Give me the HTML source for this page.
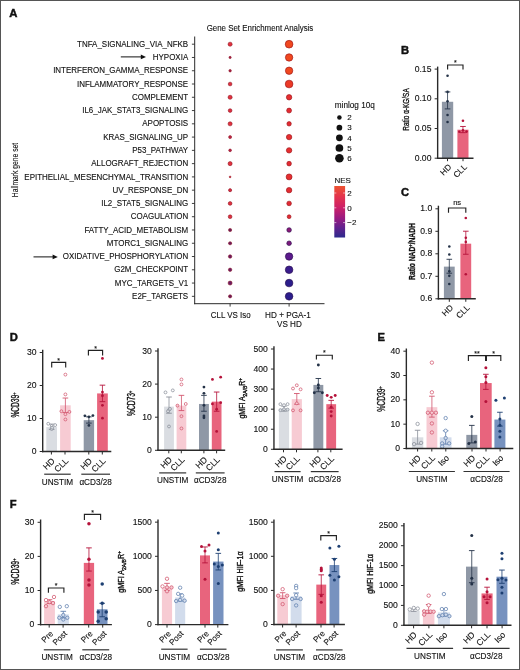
<!DOCTYPE html><html><head><meta charset="utf-8"><style>html,body{margin:0;padding:0;background:#fff;}svg{display:block;will-change:transform;}</style></head><body>
<svg width="520" height="670" viewBox="0 0 520 670" font-family='"Liberation Sans", sans-serif'>
<style>text{stroke:#111;stroke-width:0.12px;}</style>
<rect x="0" y="0" width="520" height="670" fill="#fff"/>
<text x="9.30" y="17.00" font-size="11.3" text-anchor="start" font-weight="bold" fill="#111" style="stroke-width:0.45px">A</text>
<text x="260.00" y="31.10" font-size="8.9" text-anchor="middle" fill="#111" textLength="106.60" lengthAdjust="spacingAndGlyphs" >Gene Set Enrichment Analysis</text>
<line x1="194.70" y1="36.50" x2="194.70" y2="304.20" stroke="#2a2a2a" stroke-width="1"/>
<line x1="194.20" y1="303.70" x2="324.50" y2="303.70" stroke="#2a2a2a" stroke-width="1"/>
<line x1="191.90" y1="44.20" x2="194.70" y2="44.20" stroke="#2a2a2a" stroke-width="0.9"/>
<text x="188.20" y="46.80" font-size="8.8" text-anchor="end" fill="#111" textLength="111.17" lengthAdjust="spacingAndGlyphs" >TNFA_SIGNALING_VIA_NFKB</text>
<line x1="191.90" y1="57.47" x2="194.70" y2="57.47" stroke="#2a2a2a" stroke-width="0.9"/>
<text x="188.20" y="60.07" font-size="8.8" text-anchor="end" fill="#111" textLength="35.43" lengthAdjust="spacingAndGlyphs" >HYPOXIA</text>
<line x1="191.90" y1="70.74" x2="194.70" y2="70.74" stroke="#2a2a2a" stroke-width="0.9"/>
<text x="188.20" y="73.34" font-size="8.8" text-anchor="end" fill="#111" textLength="135.07" lengthAdjust="spacingAndGlyphs" >INTERFERON_GAMMA_RESPONSE</text>
<line x1="191.90" y1="84.01" x2="194.70" y2="84.01" stroke="#2a2a2a" stroke-width="0.9"/>
<text x="188.20" y="86.61" font-size="8.8" text-anchor="end" fill="#111" textLength="111.17" lengthAdjust="spacingAndGlyphs" >INFLAMMATORY_RESPONSE</text>
<line x1="191.90" y1="97.28" x2="194.70" y2="97.28" stroke="#2a2a2a" stroke-width="0.9"/>
<text x="188.20" y="99.88" font-size="8.8" text-anchor="end" fill="#111" textLength="56.24" lengthAdjust="spacingAndGlyphs" >COMPLEMENT</text>
<line x1="191.90" y1="110.55" x2="194.70" y2="110.55" stroke="#2a2a2a" stroke-width="0.9"/>
<text x="188.20" y="113.15" font-size="8.8" text-anchor="end" fill="#111" textLength="106.02" lengthAdjust="spacingAndGlyphs" >IL6_JAK_STAT3_SIGNALING</text>
<line x1="191.90" y1="123.82" x2="194.70" y2="123.82" stroke="#2a2a2a" stroke-width="0.9"/>
<text x="188.20" y="126.42" font-size="8.8" text-anchor="end" fill="#111" textLength="45.92" lengthAdjust="spacingAndGlyphs" >APOPTOSIS</text>
<line x1="191.90" y1="137.09" x2="194.70" y2="137.09" stroke="#2a2a2a" stroke-width="0.9"/>
<text x="188.20" y="139.69" font-size="8.8" text-anchor="end" fill="#111" textLength="85.05" lengthAdjust="spacingAndGlyphs" >KRAS_SIGNALING_UP</text>
<line x1="191.90" y1="150.36" x2="194.70" y2="150.36" stroke="#2a2a2a" stroke-width="0.9"/>
<text x="188.20" y="152.96" font-size="8.8" text-anchor="end" fill="#111" textLength="55.96" lengthAdjust="spacingAndGlyphs" >P53_PATHWAY</text>
<line x1="191.90" y1="163.63" x2="194.70" y2="163.63" stroke="#2a2a2a" stroke-width="0.9"/>
<text x="188.20" y="166.23" font-size="8.8" text-anchor="end" fill="#111" textLength="96.99" lengthAdjust="spacingAndGlyphs" >ALLOGRAFT_REJECTION</text>
<line x1="191.90" y1="176.90" x2="194.70" y2="176.90" stroke="#2a2a2a" stroke-width="0.9"/>
<text x="188.20" y="179.50" font-size="8.8" text-anchor="end" fill="#111" textLength="163.87" lengthAdjust="spacingAndGlyphs" >EPITHELIAL_MESENCHYMAL_TRANSITION</text>
<line x1="191.90" y1="190.17" x2="194.70" y2="190.17" stroke="#2a2a2a" stroke-width="0.9"/>
<text x="188.20" y="192.77" font-size="8.8" text-anchor="end" fill="#111" textLength="75.74" lengthAdjust="spacingAndGlyphs" >UV_RESPONSE_DN</text>
<line x1="191.90" y1="203.44" x2="194.70" y2="203.44" stroke="#2a2a2a" stroke-width="0.9"/>
<text x="188.20" y="206.04" font-size="8.8" text-anchor="end" fill="#111" textLength="86.97" lengthAdjust="spacingAndGlyphs" >IL2_STAT5_SIGNALING</text>
<line x1="191.90" y1="216.71" x2="194.70" y2="216.71" stroke="#2a2a2a" stroke-width="0.9"/>
<text x="188.20" y="219.31" font-size="8.8" text-anchor="end" fill="#111" textLength="57.42" lengthAdjust="spacingAndGlyphs" >COAGULATION</text>
<line x1="191.90" y1="229.98" x2="194.70" y2="229.98" stroke="#2a2a2a" stroke-width="0.9"/>
<text x="188.20" y="232.58" font-size="8.8" text-anchor="end" fill="#111" textLength="103.78" lengthAdjust="spacingAndGlyphs" >FATTY_ACID_METABOLISM</text>
<line x1="191.90" y1="243.25" x2="194.70" y2="243.25" stroke="#2a2a2a" stroke-width="0.9"/>
<text x="188.20" y="245.85" font-size="8.8" text-anchor="end" fill="#111" textLength="81.34" lengthAdjust="spacingAndGlyphs" >MTORC1_SIGNALING</text>
<line x1="191.90" y1="256.52" x2="194.70" y2="256.52" stroke="#2a2a2a" stroke-width="0.9"/>
<text x="188.20" y="259.12" font-size="8.8" text-anchor="end" fill="#111" textLength="125.34" lengthAdjust="spacingAndGlyphs" >OXIDATIVE_PHOSPHORYLATION</text>
<line x1="191.90" y1="269.79" x2="194.70" y2="269.79" stroke="#2a2a2a" stroke-width="0.9"/>
<text x="188.20" y="272.39" font-size="8.8" text-anchor="end" fill="#111" textLength="73.96" lengthAdjust="spacingAndGlyphs" >G2M_CHECKPOINT</text>
<line x1="191.90" y1="283.06" x2="194.70" y2="283.06" stroke="#2a2a2a" stroke-width="0.9"/>
<text x="188.20" y="285.66" font-size="8.8" text-anchor="end" fill="#111" textLength="73.38" lengthAdjust="spacingAndGlyphs" >MYC_TARGETS_V1</text>
<line x1="191.90" y1="296.33" x2="194.70" y2="296.33" stroke="#2a2a2a" stroke-width="0.9"/>
<text x="188.20" y="298.93" font-size="8.8" text-anchor="end" fill="#111" textLength="56.10" lengthAdjust="spacingAndGlyphs" >E2F_TARGETS</text>
<line x1="230.10" y1="303.70" x2="230.10" y2="306.60" stroke="#2a2a2a" stroke-width="0.9"/>
<line x1="289.10" y1="303.70" x2="289.10" y2="306.60" stroke="#2a2a2a" stroke-width="0.9"/>
<text x="230.70" y="317.50" font-size="8.6" text-anchor="middle" fill="#111" textLength="39.80" lengthAdjust="spacingAndGlyphs" >CLL VS Iso</text>
<text x="287.90" y="317.50" font-size="8.6" text-anchor="middle" fill="#111" textLength="45.60" lengthAdjust="spacingAndGlyphs" >HD + PGA-1</text>
<text x="289.40" y="326.60" font-size="8.6" text-anchor="middle" fill="#111" textLength="24.80" lengthAdjust="spacingAndGlyphs" >VS HD</text>
<line x1="120.80" y1="56.90" x2="143.00" y2="56.90" stroke="#111" stroke-width="1"/>
<path d="M146.00 56.90 L140.80 54.60 L140.80 59.20 Z" fill="#111"/>
<line x1="33.50" y1="256.90" x2="54.80" y2="256.90" stroke="#111" stroke-width="1"/>
<path d="M57.80 256.90 L52.60 254.60 L52.60 259.20 Z" fill="#111"/>
<circle cx="230.10" cy="44.20" r="2.05" fill="#e2323e" stroke="#8a1020" stroke-width="0.55"/>
<circle cx="289.10" cy="44.20" r="3.85" fill="#f0481f" stroke="#9a1418" stroke-width="0.65"/>
<circle cx="230.10" cy="57.47" r="1.15" fill="#a52048" stroke="#8a1020" stroke-width="0.55"/>
<circle cx="289.10" cy="57.47" r="3.70" fill="#f0481f" stroke="#9a1418" stroke-width="0.65"/>
<circle cx="230.10" cy="70.74" r="1.25" fill="#a82046" stroke="#8a1020" stroke-width="0.55"/>
<circle cx="289.10" cy="70.74" r="3.70" fill="#f0481f" stroke="#9a1418" stroke-width="0.65"/>
<circle cx="230.10" cy="84.01" r="1.85" fill="#df303e" stroke="#8a1020" stroke-width="0.55"/>
<circle cx="289.10" cy="84.01" r="3.85" fill="#ec3a26" stroke="#9a1418" stroke-width="0.65"/>
<circle cx="230.10" cy="97.28" r="2.05" fill="#e2323e" stroke="#8a1020" stroke-width="0.55"/>
<circle cx="289.10" cy="97.28" r="2.70" fill="#e62e30" stroke="#9a1418" stroke-width="0.65"/>
<circle cx="230.10" cy="110.55" r="1.85" fill="#df2f3f" stroke="#8a1020" stroke-width="0.55"/>
<circle cx="289.10" cy="110.55" r="2.45" fill="#e42a32" stroke="#9a1418" stroke-width="0.65"/>
<circle cx="230.10" cy="123.82" r="2.05" fill="#e2323e" stroke="#8a1020" stroke-width="0.55"/>
<circle cx="289.10" cy="123.82" r="2.20" fill="#e42a32" stroke="#9a1418" stroke-width="0.65"/>
<circle cx="230.10" cy="137.09" r="1.50" fill="#c02444" stroke="#8a1020" stroke-width="0.55"/>
<circle cx="289.10" cy="137.09" r="2.70" fill="#e62e30" stroke="#9a1418" stroke-width="0.65"/>
<circle cx="230.10" cy="150.36" r="1.35" fill="#b82246" stroke="#8a1020" stroke-width="0.55"/>
<circle cx="289.10" cy="150.36" r="2.70" fill="#e62e30" stroke="#9a1418" stroke-width="0.65"/>
<circle cx="230.10" cy="163.63" r="2.05" fill="#e2323e" stroke="#8a1020" stroke-width="0.55"/>
<circle cx="289.10" cy="163.63" r="2.30" fill="#e42a32" stroke="#9a1418" stroke-width="0.65"/>
<circle cx="230.10" cy="176.90" r="0.85" fill="#e0303e" stroke="#8a1020" stroke-width="0.55"/>
<circle cx="289.10" cy="176.90" r="2.95" fill="#e62e30" stroke="#9a1418" stroke-width="0.65"/>
<circle cx="230.10" cy="190.17" r="1.55" fill="#d82c40" stroke="#8a1020" stroke-width="0.55"/>
<circle cx="289.10" cy="190.17" r="2.70" fill="#e42c32" stroke="#9a1418" stroke-width="0.65"/>
<circle cx="230.10" cy="203.44" r="1.85" fill="#e03240" stroke="#8a1020" stroke-width="0.55"/>
<circle cx="289.10" cy="203.44" r="2.30" fill="#e22a34" stroke="#9a1418" stroke-width="0.65"/>
<circle cx="230.10" cy="216.71" r="1.85" fill="#e03240" stroke="#8a1020" stroke-width="0.55"/>
<circle cx="289.10" cy="216.71" r="1.90" fill="#e22a34" stroke="#9a1418" stroke-width="0.65"/>
<circle cx="230.10" cy="229.98" r="1.60" fill="#6a1a56" stroke="#8a1020" stroke-width="0.55"/>
<circle cx="289.10" cy="229.98" r="2.30" fill="#8c1a78" stroke="#2a1050" stroke-width="0.65"/>
<circle cx="230.10" cy="243.25" r="1.60" fill="#6c1a5c" stroke="#8a1020" stroke-width="0.55"/>
<circle cx="289.10" cy="243.25" r="2.30" fill="#7e1a7c" stroke="#2a1050" stroke-width="0.65"/>
<circle cx="230.10" cy="256.52" r="1.70" fill="#6a1a62" stroke="#8a1020" stroke-width="0.55"/>
<circle cx="289.10" cy="256.52" r="3.70" fill="#5c1a8c" stroke="#2a1050" stroke-width="0.65"/>
<circle cx="230.10" cy="269.79" r="1.70" fill="#6a1a62" stroke="#8a1020" stroke-width="0.55"/>
<circle cx="289.10" cy="269.79" r="3.80" fill="#3a1c8c" stroke="#2a1050" stroke-width="0.65"/>
<circle cx="230.10" cy="283.06" r="2.00" fill="#6a1a62" stroke="#8a1020" stroke-width="0.55"/>
<circle cx="289.10" cy="283.06" r="3.80" fill="#2c1e8c" stroke="#2a1050" stroke-width="0.65"/>
<circle cx="230.10" cy="296.33" r="1.60" fill="#6a1a5a" stroke="#8a1020" stroke-width="0.55"/>
<circle cx="289.10" cy="296.33" r="3.80" fill="#2c1e8c" stroke="#2a1050" stroke-width="0.65"/>
<text transform="translate(18.0,170) rotate(-90)" font-size="9.2" text-anchor="middle" fill="#111" textLength="54.3" lengthAdjust="spacingAndGlyphs">Hallmark gene set</text>
<text x="334.80" y="108.20" font-size="8.2" text-anchor="start" font-weight="normal" fill="#111" >minlog 10q</text>
<circle cx="339.40" cy="117.50" r="2.25" fill="#111" stroke="none" stroke-width="0"/>
<text x="347.30" y="120.30" font-size="8" text-anchor="start" font-weight="normal" fill="#111" >2</text>
<circle cx="339.40" cy="127.67" r="2.85" fill="#111" stroke="none" stroke-width="0"/>
<text x="347.30" y="130.47" font-size="8" text-anchor="start" font-weight="normal" fill="#111" >3</text>
<circle cx="339.40" cy="137.84" r="3.40" fill="#111" stroke="none" stroke-width="0"/>
<text x="347.30" y="140.64" font-size="8" text-anchor="start" font-weight="normal" fill="#111" >4</text>
<circle cx="339.40" cy="148.01" r="3.85" fill="#111" stroke="none" stroke-width="0"/>
<text x="347.30" y="150.81" font-size="8" text-anchor="start" font-weight="normal" fill="#111" >5</text>
<circle cx="339.40" cy="158.18" r="4.30" fill="#111" stroke="none" stroke-width="0"/>
<text x="347.30" y="160.98" font-size="8" text-anchor="start" font-weight="normal" fill="#111" >6</text>
<text x="334.40" y="182.60" font-size="8" text-anchor="start" font-weight="normal" fill="#111" >NES</text>
<defs><linearGradient id="nes" x1="0" y1="0" x2="0" y2="1"><stop offset="0" stop-color="#ec5230"/><stop offset="0.2" stop-color="#e4344c"/><stop offset="0.42" stop-color="#cc2068"/><stop offset="0.62" stop-color="#9a1a80"/><stop offset="0.8" stop-color="#64218e"/><stop offset="1" stop-color="#2c2a8c"/></linearGradient></defs>
<rect x="334.3" y="186" width="10.8" height="51.5" fill="url(#nes)"/>
<line x1="334.30" y1="193.00" x2="336.30" y2="193.00" stroke="#fff" stroke-width="0.6"/>
<line x1="343.10" y1="193.00" x2="345.10" y2="193.00" stroke="#fff" stroke-width="0.6"/>
<line x1="334.30" y1="207.80" x2="336.30" y2="207.80" stroke="#fff" stroke-width="0.6"/>
<line x1="343.10" y1="207.80" x2="345.10" y2="207.80" stroke="#fff" stroke-width="0.6"/>
<line x1="334.30" y1="222.60" x2="336.30" y2="222.60" stroke="#fff" stroke-width="0.6"/>
<line x1="343.10" y1="222.60" x2="345.10" y2="222.60" stroke="#fff" stroke-width="0.6"/>
<text x="347.30" y="195.80" font-size="8" text-anchor="start" font-weight="normal" fill="#111" >2</text>
<text x="347.30" y="210.60" font-size="8" text-anchor="start" font-weight="normal" fill="#111" >0</text>
<text x="347.30" y="225.40" font-size="8" text-anchor="start" font-weight="normal" fill="#111" >−2</text>
<text x="401.00" y="54.20" font-size="11.2" text-anchor="start" font-weight="bold" fill="#111" style="stroke-width:0.45px">B</text>
<text x="401.00" y="195.60" font-size="11.2" text-anchor="start" font-weight="bold" fill="#111" style="stroke-width:0.45px">C</text>
<text x="9.80" y="341.30" font-size="11.2" text-anchor="start" font-weight="bold" fill="#111" style="stroke-width:0.45px">D</text>
<text x="377.40" y="341.00" font-size="11.2" text-anchor="start" font-weight="bold" fill="#111" style="stroke-width:0.45px">E</text>
<text x="9.80" y="507.50" font-size="11.2" text-anchor="start" font-weight="bold" fill="#111" style="stroke-width:0.45px">F</text>
<rect x="441.90" y="101.77" width="11.30" height="56.43" fill="#8f98a6"/>
<rect x="457.40" y="129.69" width="11.10" height="28.51" fill="#e8647d"/>
<line x1="447.55" y1="91.91" x2="447.55" y2="108.90" stroke="#243247" stroke-width="0.8"/>
<line x1="444.75" y1="91.91" x2="450.35" y2="91.91" stroke="#243247" stroke-width="0.9"/>
<line x1="444.75" y1="108.90" x2="450.35" y2="108.90" stroke="#243247" stroke-width="0.9"/>
<circle cx="447.55" cy="75.81" r="1.30" fill="#243247" stroke="none" stroke-width="0"/>
<circle cx="447.55" cy="91.91" r="1.30" fill="#243247" stroke="none" stroke-width="0"/>
<circle cx="447.55" cy="101.18" r="1.30" fill="#243247" stroke="none" stroke-width="0"/>
<circle cx="447.55" cy="115.02" r="1.30" fill="#243247" stroke="none" stroke-width="0"/>
<circle cx="447.55" cy="121.97" r="1.30" fill="#243247" stroke="none" stroke-width="0"/>
<line x1="462.95" y1="126.48" x2="462.95" y2="132.66" stroke="#b5123a" stroke-width="0.8"/>
<line x1="460.15" y1="126.48" x2="465.75" y2="126.48" stroke="#b5123a" stroke-width="0.9"/>
<line x1="460.15" y1="132.66" x2="465.75" y2="132.66" stroke="#b5123a" stroke-width="0.9"/>
<circle cx="462.95" cy="120.78" r="1.30" fill="#b5123a" stroke="none" stroke-width="0"/>
<circle cx="459.35" cy="131.77" r="1.30" fill="#b5123a" stroke="none" stroke-width="0"/>
<circle cx="466.55" cy="131.59" r="1.30" fill="#b5123a" stroke="none" stroke-width="0"/>
<circle cx="462.95" cy="130.28" r="1.30" fill="#b5123a" stroke="none" stroke-width="0"/>
<line x1="437.65" y1="66.60" x2="437.65" y2="158.90" stroke="#2a2a2a" stroke-width="1.4"/>
<line x1="436.95" y1="158.20" x2="473.50" y2="158.20" stroke="#2a2a2a" stroke-width="1.4"/>
<line x1="434.65" y1="158.20" x2="437.65" y2="158.20" stroke="#2a2a2a" stroke-width="1"/>
<text x="431.45" y="160.70" font-size="8.6" text-anchor="end" font-weight="normal" fill="#111" >0.00</text>
<line x1="434.65" y1="128.50" x2="437.65" y2="128.50" stroke="#2a2a2a" stroke-width="1"/>
<text x="431.45" y="131.00" font-size="8.6" text-anchor="end" font-weight="normal" fill="#111" >0.05</text>
<line x1="434.65" y1="98.80" x2="437.65" y2="98.80" stroke="#2a2a2a" stroke-width="1"/>
<text x="431.45" y="101.30" font-size="8.6" text-anchor="end" font-weight="normal" fill="#111" >0.10</text>
<line x1="434.65" y1="69.10" x2="437.65" y2="69.10" stroke="#2a2a2a" stroke-width="1"/>
<text x="431.45" y="71.60" font-size="8.6" text-anchor="end" font-weight="normal" fill="#111" >0.15</text>
<line x1="447.50" y1="158.20" x2="447.50" y2="161.20" stroke="#2a2a2a" stroke-width="1"/>
<text transform="translate(451.90,167.60) rotate(-45)" font-size="8.3" text-anchor="end" fill="#111">HD</text>
<line x1="463.00" y1="158.20" x2="463.00" y2="161.20" stroke="#2a2a2a" stroke-width="1"/>
<text transform="translate(467.40,167.60) rotate(-45)" font-size="8.3" text-anchor="end" fill="#111">CLL</text>
<path d="M447.60 69.60 L447.60 65.00 L463.00 65.00 L463.00 69.60" fill="none" stroke="#222" stroke-width="1.15"/>
<text x="455.30" y="65.20" font-size="7" text-anchor="middle" font-weight="normal" fill="#111" >*</text>
<text transform="translate(409.00,109.50) rotate(-90)" font-size="9.2" font-weight="normal" style="stroke-width:0.35px" text-anchor="middle" fill="#111" textLength="42.4" lengthAdjust="spacingAndGlyphs">Ratio &#945;-KG/SA</text>
<rect x="443.90" y="266.62" width="10.80" height="32.18" fill="#8f98a6"/>
<rect x="460.40" y="243.68" width="10.80" height="55.12" fill="#e8647d"/>
<line x1="449.30" y1="259.29" x2="449.30" y2="273.19" stroke="#243247" stroke-width="0.8"/>
<line x1="446.50" y1="259.29" x2="452.10" y2="259.29" stroke="#243247" stroke-width="0.9"/>
<line x1="446.50" y1="273.19" x2="452.10" y2="273.19" stroke="#243247" stroke-width="0.9"/>
<circle cx="449.30" cy="246.51" r="1.30" fill="#243247" stroke="none" stroke-width="0"/>
<circle cx="449.30" cy="254.47" r="1.30" fill="#243247" stroke="none" stroke-width="0"/>
<circle cx="449.30" cy="271.19" r="1.30" fill="#243247" stroke="none" stroke-width="0"/>
<circle cx="449.30" cy="275.85" r="1.30" fill="#243247" stroke="none" stroke-width="0"/>
<circle cx="449.30" cy="283.95" r="1.30" fill="#243247" stroke="none" stroke-width="0"/>
<line x1="465.80" y1="231.21" x2="465.80" y2="254.25" stroke="#b5123a" stroke-width="0.8"/>
<line x1="463.00" y1="231.21" x2="468.60" y2="231.21" stroke="#b5123a" stroke-width="0.9"/>
<line x1="463.00" y1="254.25" x2="468.60" y2="254.25" stroke="#b5123a" stroke-width="0.9"/>
<circle cx="465.80" cy="218.03" r="1.30" fill="#b5123a" stroke="none" stroke-width="0"/>
<circle cx="465.80" cy="237.83" r="1.30" fill="#b5123a" stroke="none" stroke-width="0"/>
<circle cx="465.80" cy="241.88" r="1.30" fill="#b5123a" stroke="none" stroke-width="0"/>
<circle cx="465.80" cy="274.28" r="1.30" fill="#b5123a" stroke="none" stroke-width="0"/>
<line x1="438.40" y1="205.70" x2="438.40" y2="299.50" stroke="#2a2a2a" stroke-width="1.4"/>
<line x1="437.70" y1="298.80" x2="475.80" y2="298.80" stroke="#2a2a2a" stroke-width="1.4"/>
<line x1="435.40" y1="298.80" x2="438.40" y2="298.80" stroke="#2a2a2a" stroke-width="1"/>
<text x="432.20" y="301.30" font-size="8.6" text-anchor="end" font-weight="normal" fill="#111" >0.6</text>
<line x1="435.40" y1="276.30" x2="438.40" y2="276.30" stroke="#2a2a2a" stroke-width="1"/>
<text x="432.20" y="278.80" font-size="8.6" text-anchor="end" font-weight="normal" fill="#111" >0.7</text>
<line x1="435.40" y1="253.80" x2="438.40" y2="253.80" stroke="#2a2a2a" stroke-width="1"/>
<text x="432.20" y="256.30" font-size="8.6" text-anchor="end" font-weight="normal" fill="#111" >0.8</text>
<line x1="435.40" y1="231.30" x2="438.40" y2="231.30" stroke="#2a2a2a" stroke-width="1"/>
<text x="432.20" y="233.80" font-size="8.6" text-anchor="end" font-weight="normal" fill="#111" >0.9</text>
<line x1="435.40" y1="208.80" x2="438.40" y2="208.80" stroke="#2a2a2a" stroke-width="1"/>
<text x="432.20" y="211.30" font-size="8.6" text-anchor="end" font-weight="normal" fill="#111" >1.0</text>
<line x1="449.30" y1="298.80" x2="449.30" y2="301.80" stroke="#2a2a2a" stroke-width="1"/>
<text transform="translate(453.70,308.20) rotate(-45)" font-size="8.3" text-anchor="end" fill="#111">HD</text>
<line x1="465.80" y1="298.80" x2="465.80" y2="301.80" stroke="#2a2a2a" stroke-width="1"/>
<text transform="translate(470.20,308.20) rotate(-45)" font-size="8.3" text-anchor="end" fill="#111">CLL</text>
<path d="M448.50 212.70 L448.50 208.00 L465.80 208.00 L465.80 212.70" fill="none" stroke="#222" stroke-width="1.15"/>
<text x="457.15" y="204.90" font-size="7.6" text-anchor="middle" font-weight="normal" fill="#111" >ns</text>
<text transform="translate(415.00,251.50) rotate(-90)" font-size="9.8" font-weight="bold" style="stroke-width:0.35px" text-anchor="middle" fill="#111" textLength="56.8" lengthAdjust="spacingAndGlyphs">Ratio NAD<tspan baseline-shift="3.2" font-size="5.8">+</tspan>/NADH</text>
<rect x="46.30" y="427.08" width="10.70" height="24.42" fill="#dadde2"/>
<rect x="60.10" y="405.30" width="10.60" height="46.20" fill="#f7cbd3"/>
<rect x="83.70" y="420.15" width="10.40" height="31.35" fill="#8f98a6"/>
<rect x="97.10" y="393.42" width="10.70" height="58.08" fill="#e8647d"/>
<line x1="51.65" y1="424.11" x2="51.65" y2="429.39" stroke="#8a8f99" stroke-width="0.8"/>
<line x1="48.85" y1="424.11" x2="54.45" y2="424.11" stroke="#8a8f99" stroke-width="0.9"/>
<line x1="48.85" y1="429.39" x2="54.45" y2="429.39" stroke="#8a8f99" stroke-width="0.9"/>
<circle cx="48.25" cy="423.78" r="1.45" fill="#fff" stroke="#8a8f99" stroke-width="0.75"/>
<circle cx="51.65" cy="426.09" r="1.45" fill="#fff" stroke="#8a8f99" stroke-width="0.75"/>
<circle cx="55.15" cy="425.10" r="1.45" fill="#fff" stroke="#8a8f99" stroke-width="0.75"/>
<circle cx="51.65" cy="429.06" r="1.45" fill="#dadde2" stroke="#8a8f99" stroke-width="0.75"/>
<circle cx="52.15" cy="427.74" r="1.45" fill="#dadde2" stroke="#8a8f99" stroke-width="0.75"/>
<line x1="65.40" y1="398.04" x2="65.40" y2="412.56" stroke="#d2566e" stroke-width="0.8"/>
<line x1="62.60" y1="398.04" x2="68.20" y2="398.04" stroke="#d2566e" stroke-width="0.9"/>
<line x1="62.60" y1="412.56" x2="68.20" y2="412.56" stroke="#d2566e" stroke-width="0.9"/>
<circle cx="65.40" cy="374.61" r="1.45" fill="#fff" stroke="#d2566e" stroke-width="0.75"/>
<circle cx="65.40" cy="394.41" r="1.45" fill="#fff" stroke="#d2566e" stroke-width="0.75"/>
<circle cx="61.40" cy="411.24" r="1.45" fill="#f7cbd3" stroke="#d2566e" stroke-width="0.75"/>
<circle cx="69.40" cy="411.90" r="1.45" fill="#f7cbd3" stroke="#d2566e" stroke-width="0.75"/>
<circle cx="65.40" cy="414.21" r="1.45" fill="#f7cbd3" stroke="#d2566e" stroke-width="0.75"/>
<circle cx="65.40" cy="419.49" r="1.45" fill="#f7cbd3" stroke="#d2566e" stroke-width="0.75"/>
<line x1="88.90" y1="416.85" x2="88.90" y2="423.12" stroke="#243247" stroke-width="0.8"/>
<line x1="86.10" y1="416.85" x2="91.70" y2="416.85" stroke="#243247" stroke-width="0.9"/>
<line x1="86.10" y1="423.12" x2="91.70" y2="423.12" stroke="#243247" stroke-width="0.9"/>
<circle cx="84.90" cy="415.86" r="1.40" fill="#243247" stroke="none" stroke-width="0"/>
<circle cx="88.90" cy="416.85" r="1.40" fill="#243247" stroke="none" stroke-width="0"/>
<circle cx="92.90" cy="415.53" r="1.40" fill="#243247" stroke="none" stroke-width="0"/>
<circle cx="88.90" cy="425.43" r="1.40" fill="#243247" stroke="none" stroke-width="0"/>
<line x1="102.45" y1="385.17" x2="102.45" y2="401.67" stroke="#b5123a" stroke-width="0.8"/>
<line x1="99.65" y1="385.17" x2="105.25" y2="385.17" stroke="#b5123a" stroke-width="0.9"/>
<line x1="99.65" y1="401.67" x2="105.25" y2="401.67" stroke="#b5123a" stroke-width="0.9"/>
<circle cx="102.45" cy="358.44" r="1.40" fill="#b5123a" stroke="none" stroke-width="0"/>
<circle cx="102.45" cy="392.10" r="1.40" fill="#b5123a" stroke="none" stroke-width="0"/>
<circle cx="102.45" cy="395.73" r="1.40" fill="#b5123a" stroke="none" stroke-width="0"/>
<circle cx="102.45" cy="405.30" r="1.40" fill="#b5123a" stroke="none" stroke-width="0"/>
<circle cx="102.45" cy="418.17" r="1.40" fill="#b5123a" stroke="none" stroke-width="0"/>
<line x1="42.70" y1="349.80" x2="42.70" y2="452.20" stroke="#2a2a2a" stroke-width="1.4"/>
<line x1="42.00" y1="451.50" x2="111.30" y2="451.50" stroke="#2a2a2a" stroke-width="1.4"/>
<line x1="39.70" y1="451.50" x2="42.70" y2="451.50" stroke="#2a2a2a" stroke-width="1"/>
<text x="36.50" y="454.00" font-size="8.6" text-anchor="end" font-weight="normal" fill="#111" >0</text>
<line x1="39.70" y1="418.50" x2="42.70" y2="418.50" stroke="#2a2a2a" stroke-width="1"/>
<text x="36.50" y="421.00" font-size="8.6" text-anchor="end" font-weight="normal" fill="#111" >10</text>
<line x1="39.70" y1="385.50" x2="42.70" y2="385.50" stroke="#2a2a2a" stroke-width="1"/>
<text x="36.50" y="388.00" font-size="8.6" text-anchor="end" font-weight="normal" fill="#111" >20</text>
<line x1="39.70" y1="352.50" x2="42.70" y2="352.50" stroke="#2a2a2a" stroke-width="1"/>
<text x="36.50" y="355.00" font-size="8.6" text-anchor="end" font-weight="normal" fill="#111" >30</text>
<line x1="51.40" y1="451.50" x2="51.40" y2="454.50" stroke="#2a2a2a" stroke-width="1"/>
<text transform="translate(55.30,461.50) rotate(-45)" font-size="8.6" text-anchor="end" fill="#111">HD</text>
<line x1="65.00" y1="451.50" x2="65.00" y2="454.50" stroke="#2a2a2a" stroke-width="1"/>
<text transform="translate(68.90,461.50) rotate(-45)" font-size="8.6" text-anchor="end" fill="#111">CLL</text>
<line x1="88.80" y1="451.50" x2="88.80" y2="454.50" stroke="#2a2a2a" stroke-width="1"/>
<text transform="translate(92.70,461.50) rotate(-45)" font-size="8.6" text-anchor="end" fill="#111">HD</text>
<line x1="102.30" y1="451.50" x2="102.30" y2="454.50" stroke="#2a2a2a" stroke-width="1"/>
<text transform="translate(106.20,461.50) rotate(-45)" font-size="8.6" text-anchor="end" fill="#111">CLL</text>
<line x1="44.20" y1="474.20" x2="70.70" y2="474.20" stroke="#333" stroke-width="1.2"/>
<text x="57.45" y="484.60" font-size="8.2" text-anchor="middle" font-weight="normal" fill="#111" >UNSTIM</text>
<line x1="81.30" y1="474.20" x2="110.00" y2="474.20" stroke="#333" stroke-width="1.2"/>
<text x="95.65" y="484.60" font-size="8.2" text-anchor="middle" font-weight="normal" fill="#111" >&#945;CD3/28</text>
<path d="M51.70 367.50 L51.70 362.30 L65.70 362.30 L65.70 367.50" fill="none" stroke="#222" stroke-width="1.15"/>
<text x="58.70" y="363.00" font-size="7" text-anchor="middle" font-weight="normal" fill="#111" >*</text>
<path d="M88.40 355.40 L88.40 350.30 L102.60 350.30 L102.60 355.40" fill="none" stroke="#222" stroke-width="1.15"/>
<text x="95.50" y="351.00" font-size="7" text-anchor="middle" font-weight="normal" fill="#111" >*</text>
<text transform="translate(19.40,405.10) rotate(-90)" font-size="10" font-weight="normal" style="stroke-width:0.35px" text-anchor="middle" fill="#111" textLength="25.0" lengthAdjust="spacingAndGlyphs">%CD39<tspan baseline-shift="3.2" font-size="5.8">+</tspan></text>
<rect x="164.10" y="406.61" width="9.80" height="43.69" fill="#dadde2"/>
<rect x="176.60" y="405.62" width="9.70" height="44.69" fill="#f7cbd3"/>
<rect x="199.00" y="403.96" width="9.90" height="46.34" fill="#8f98a6"/>
<rect x="211.80" y="401.64" width="9.70" height="48.66" fill="#e8647d"/>
<line x1="169.00" y1="397.01" x2="169.00" y2="413.23" stroke="#8a8f99" stroke-width="0.8"/>
<line x1="166.20" y1="397.01" x2="171.80" y2="397.01" stroke="#8a8f99" stroke-width="0.9"/>
<line x1="166.20" y1="413.23" x2="171.80" y2="413.23" stroke="#8a8f99" stroke-width="0.9"/>
<circle cx="165.50" cy="392.38" r="1.45" fill="#fff" stroke="#8a8f99" stroke-width="0.75"/>
<circle cx="172.80" cy="390.39" r="1.45" fill="#fff" stroke="#8a8f99" stroke-width="0.75"/>
<circle cx="169.00" cy="426.47" r="1.45" fill="#dadde2" stroke="#8a8f99" stroke-width="0.75"/>
<circle cx="169.00" cy="409.92" r="1.45" fill="#dadde2" stroke="#8a8f99" stroke-width="0.75"/>
<circle cx="168.00" cy="411.24" r="1.45" fill="#dadde2" stroke="#8a8f99" stroke-width="0.75"/>
<circle cx="170.00" cy="408.93" r="1.45" fill="#dadde2" stroke="#8a8f99" stroke-width="0.75"/>
<line x1="181.45" y1="395.35" x2="181.45" y2="410.58" stroke="#d2566e" stroke-width="0.8"/>
<line x1="178.65" y1="395.35" x2="184.25" y2="395.35" stroke="#d2566e" stroke-width="0.9"/>
<line x1="178.65" y1="410.58" x2="184.25" y2="410.58" stroke="#d2566e" stroke-width="0.9"/>
<circle cx="181.45" cy="379.47" r="1.45" fill="#fff" stroke="#d2566e" stroke-width="0.75"/>
<circle cx="181.45" cy="384.43" r="1.45" fill="#fff" stroke="#d2566e" stroke-width="0.75"/>
<circle cx="177.45" cy="405.62" r="1.45" fill="#f7cbd3" stroke="#d2566e" stroke-width="0.75"/>
<circle cx="185.75" cy="403.96" r="1.45" fill="#fff" stroke="#d2566e" stroke-width="0.75"/>
<circle cx="181.45" cy="416.21" r="1.45" fill="#f7cbd3" stroke="#d2566e" stroke-width="0.75"/>
<circle cx="181.45" cy="428.45" r="1.45" fill="#f7cbd3" stroke="#d2566e" stroke-width="0.75"/>
<line x1="203.95" y1="395.35" x2="203.95" y2="411.24" stroke="#243247" stroke-width="0.8"/>
<line x1="201.15" y1="395.35" x2="206.75" y2="395.35" stroke="#243247" stroke-width="0.9"/>
<line x1="201.15" y1="411.24" x2="206.75" y2="411.24" stroke="#243247" stroke-width="0.9"/>
<circle cx="203.95" cy="387.08" r="1.40" fill="#243247" stroke="none" stroke-width="0"/>
<circle cx="203.95" cy="393.37" r="1.40" fill="#243247" stroke="none" stroke-width="0"/>
<circle cx="203.95" cy="405.28" r="1.40" fill="#243247" stroke="none" stroke-width="0"/>
<circle cx="203.95" cy="415.88" r="1.40" fill="#243247" stroke="none" stroke-width="0"/>
<circle cx="203.95" cy="417.86" r="1.40" fill="#243247" stroke="none" stroke-width="0"/>
<line x1="216.65" y1="392.04" x2="216.65" y2="411.24" stroke="#b5123a" stroke-width="0.8"/>
<line x1="213.85" y1="392.04" x2="219.45" y2="392.04" stroke="#b5123a" stroke-width="0.9"/>
<line x1="213.85" y1="411.24" x2="219.45" y2="411.24" stroke="#b5123a" stroke-width="0.9"/>
<circle cx="212.45" cy="379.47" r="1.40" fill="#b5123a" stroke="none" stroke-width="0"/>
<circle cx="220.65" cy="377.15" r="1.40" fill="#b5123a" stroke="none" stroke-width="0"/>
<circle cx="212.45" cy="403.96" r="1.40" fill="#b5123a" stroke="none" stroke-width="0"/>
<circle cx="220.65" cy="402.64" r="1.40" fill="#b5123a" stroke="none" stroke-width="0"/>
<circle cx="216.65" cy="409.26" r="1.40" fill="#b5123a" stroke="none" stroke-width="0"/>
<circle cx="216.65" cy="431.43" r="1.40" fill="#b5123a" stroke="none" stroke-width="0"/>
<line x1="158.00" y1="348.30" x2="158.00" y2="451.00" stroke="#2a2a2a" stroke-width="1.4"/>
<line x1="157.30" y1="450.30" x2="225.20" y2="450.30" stroke="#2a2a2a" stroke-width="1.4"/>
<line x1="155.00" y1="450.30" x2="158.00" y2="450.30" stroke="#2a2a2a" stroke-width="1"/>
<text x="151.80" y="452.80" font-size="8.6" text-anchor="end" font-weight="normal" fill="#111" >0</text>
<line x1="155.00" y1="417.20" x2="158.00" y2="417.20" stroke="#2a2a2a" stroke-width="1"/>
<text x="151.80" y="419.70" font-size="8.6" text-anchor="end" font-weight="normal" fill="#111" >10</text>
<line x1="155.00" y1="384.10" x2="158.00" y2="384.10" stroke="#2a2a2a" stroke-width="1"/>
<text x="151.80" y="386.60" font-size="8.6" text-anchor="end" font-weight="normal" fill="#111" >20</text>
<line x1="155.00" y1="351.00" x2="158.00" y2="351.00" stroke="#2a2a2a" stroke-width="1"/>
<text x="151.80" y="353.50" font-size="8.6" text-anchor="end" font-weight="normal" fill="#111" >30</text>
<line x1="168.80" y1="450.30" x2="168.80" y2="453.30" stroke="#2a2a2a" stroke-width="1"/>
<text transform="translate(172.70,460.30) rotate(-45)" font-size="8.6" text-anchor="end" fill="#111">HD</text>
<line x1="181.30" y1="450.30" x2="181.30" y2="453.30" stroke="#2a2a2a" stroke-width="1"/>
<text transform="translate(185.20,460.30) rotate(-45)" font-size="8.6" text-anchor="end" fill="#111">CLL</text>
<line x1="203.90" y1="450.30" x2="203.90" y2="453.30" stroke="#2a2a2a" stroke-width="1"/>
<text transform="translate(207.80,460.30) rotate(-45)" font-size="8.6" text-anchor="end" fill="#111">HD</text>
<line x1="216.60" y1="450.30" x2="216.60" y2="453.30" stroke="#2a2a2a" stroke-width="1"/>
<text transform="translate(220.50,460.30) rotate(-45)" font-size="8.6" text-anchor="end" fill="#111">CLL</text>
<line x1="159.20" y1="472.90" x2="186.20" y2="472.90" stroke="#333" stroke-width="1.2"/>
<text x="172.70" y="483.30" font-size="8.2" text-anchor="middle" font-weight="normal" fill="#111" >UNSTIM</text>
<line x1="195.80" y1="472.90" x2="224.60" y2="472.90" stroke="#333" stroke-width="1.2"/>
<text x="210.20" y="483.30" font-size="8.2" text-anchor="middle" font-weight="normal" fill="#111" >&#945;CD3/28</text>
<text transform="translate(135.00,403.40) rotate(-90)" font-size="10" font-weight="normal" style="stroke-width:0.35px" text-anchor="middle" fill="#111" textLength="25.3" lengthAdjust="spacingAndGlyphs">%CD73<tspan baseline-shift="3.2" font-size="5.8">+</tspan></text>
<rect x="278.90" y="408.58" width="10.20" height="40.72" fill="#dadde2"/>
<rect x="291.70" y="399.15" width="10.20" height="50.15" fill="#f7cbd3"/>
<rect x="313.40" y="384.91" width="9.90" height="64.39" fill="#8f98a6"/>
<rect x="326.30" y="404.17" width="9.80" height="45.13" fill="#e8647d"/>
<line x1="284.00" y1="406.17" x2="284.00" y2="411.19" stroke="#8a8f99" stroke-width="0.8"/>
<line x1="281.20" y1="406.17" x2="286.80" y2="406.17" stroke="#8a8f99" stroke-width="0.9"/>
<line x1="281.20" y1="411.19" x2="286.80" y2="411.19" stroke="#8a8f99" stroke-width="0.9"/>
<circle cx="280.40" cy="404.17" r="1.45" fill="#fff" stroke="#8a8f99" stroke-width="0.75"/>
<circle cx="284.00" cy="405.17" r="1.45" fill="#fff" stroke="#8a8f99" stroke-width="0.75"/>
<circle cx="287.60" cy="404.17" r="1.45" fill="#fff" stroke="#8a8f99" stroke-width="0.75"/>
<circle cx="280.40" cy="410.18" r="1.45" fill="#dadde2" stroke="#8a8f99" stroke-width="0.75"/>
<circle cx="284.00" cy="409.18" r="1.45" fill="#dadde2" stroke="#8a8f99" stroke-width="0.75"/>
<circle cx="287.60" cy="409.58" r="1.45" fill="#dadde2" stroke="#8a8f99" stroke-width="0.75"/>
<line x1="296.80" y1="393.53" x2="296.80" y2="404.17" stroke="#d2566e" stroke-width="0.8"/>
<line x1="294.00" y1="393.53" x2="299.60" y2="393.53" stroke="#d2566e" stroke-width="0.9"/>
<line x1="294.00" y1="404.17" x2="299.60" y2="404.17" stroke="#d2566e" stroke-width="0.9"/>
<circle cx="293.00" cy="388.52" r="1.45" fill="#fff" stroke="#d2566e" stroke-width="0.75"/>
<circle cx="296.80" cy="385.31" r="1.45" fill="#fff" stroke="#d2566e" stroke-width="0.75"/>
<circle cx="300.60" cy="389.32" r="1.45" fill="#fff" stroke="#d2566e" stroke-width="0.75"/>
<circle cx="296.80" cy="403.36" r="1.45" fill="#f7cbd3" stroke="#d2566e" stroke-width="0.75"/>
<circle cx="293.00" cy="410.38" r="1.45" fill="#f7cbd3" stroke="#d2566e" stroke-width="0.75"/>
<circle cx="300.60" cy="410.38" r="1.45" fill="#f7cbd3" stroke="#d2566e" stroke-width="0.75"/>
<line x1="318.35" y1="378.49" x2="318.35" y2="391.73" stroke="#243247" stroke-width="0.8"/>
<line x1="315.55" y1="378.49" x2="321.15" y2="378.49" stroke="#243247" stroke-width="0.9"/>
<line x1="315.55" y1="391.73" x2="321.15" y2="391.73" stroke="#243247" stroke-width="0.9"/>
<circle cx="318.35" cy="365.05" r="1.45" fill="#243247" stroke="none" stroke-width="0"/>
<circle cx="318.35" cy="387.92" r="1.45" fill="#243247" stroke="none" stroke-width="0"/>
<circle cx="314.35" cy="392.73" r="1.45" fill="#243247" stroke="none" stroke-width="0"/>
<circle cx="322.35" cy="392.73" r="1.45" fill="#243247" stroke="none" stroke-width="0"/>
<circle cx="318.35" cy="384.91" r="1.45" fill="#243247" stroke="none" stroke-width="0"/>
<line x1="331.20" y1="400.35" x2="331.20" y2="408.18" stroke="#b5123a" stroke-width="0.8"/>
<line x1="328.40" y1="400.35" x2="334.00" y2="400.35" stroke="#b5123a" stroke-width="0.9"/>
<line x1="328.40" y1="408.18" x2="334.00" y2="408.18" stroke="#b5123a" stroke-width="0.9"/>
<circle cx="327.20" cy="395.54" r="1.45" fill="#b5123a" stroke="none" stroke-width="0"/>
<circle cx="331.20" cy="397.34" r="1.45" fill="#b5123a" stroke="none" stroke-width="0"/>
<circle cx="335.20" cy="395.54" r="1.45" fill="#b5123a" stroke="none" stroke-width="0"/>
<circle cx="331.20" cy="407.17" r="1.45" fill="#b5123a" stroke="none" stroke-width="0"/>
<circle cx="331.20" cy="411.59" r="1.45" fill="#b5123a" stroke="none" stroke-width="0"/>
<circle cx="331.20" cy="416.00" r="1.45" fill="#b5123a" stroke="none" stroke-width="0"/>
<line x1="273.95" y1="346.30" x2="273.95" y2="450.00" stroke="#2a2a2a" stroke-width="1.4"/>
<line x1="273.25" y1="449.30" x2="342.60" y2="449.30" stroke="#2a2a2a" stroke-width="1.4"/>
<line x1="270.95" y1="449.30" x2="273.95" y2="449.30" stroke="#2a2a2a" stroke-width="1"/>
<text x="267.75" y="451.80" font-size="8.6" text-anchor="end" font-weight="normal" fill="#111" >0</text>
<line x1="270.95" y1="429.24" x2="273.95" y2="429.24" stroke="#2a2a2a" stroke-width="1"/>
<text x="267.75" y="431.74" font-size="8.6" text-anchor="end" font-weight="normal" fill="#111" >100</text>
<line x1="270.95" y1="409.18" x2="273.95" y2="409.18" stroke="#2a2a2a" stroke-width="1"/>
<text x="267.75" y="411.68" font-size="8.6" text-anchor="end" font-weight="normal" fill="#111" >200</text>
<line x1="270.95" y1="389.12" x2="273.95" y2="389.12" stroke="#2a2a2a" stroke-width="1"/>
<text x="267.75" y="391.62" font-size="8.6" text-anchor="end" font-weight="normal" fill="#111" >300</text>
<line x1="270.95" y1="369.06" x2="273.95" y2="369.06" stroke="#2a2a2a" stroke-width="1"/>
<text x="267.75" y="371.56" font-size="8.6" text-anchor="end" font-weight="normal" fill="#111" >400</text>
<line x1="270.95" y1="349.00" x2="273.95" y2="349.00" stroke="#2a2a2a" stroke-width="1"/>
<text x="267.75" y="351.50" font-size="8.6" text-anchor="end" font-weight="normal" fill="#111" >500</text>
<line x1="283.50" y1="449.30" x2="283.50" y2="452.30" stroke="#2a2a2a" stroke-width="1"/>
<text transform="translate(287.40,459.30) rotate(-45)" font-size="8.6" text-anchor="end" fill="#111">HD</text>
<line x1="296.50" y1="449.30" x2="296.50" y2="452.30" stroke="#2a2a2a" stroke-width="1"/>
<text transform="translate(300.40,459.30) rotate(-45)" font-size="8.6" text-anchor="end" fill="#111">CLL</text>
<line x1="317.90" y1="449.30" x2="317.90" y2="452.30" stroke="#2a2a2a" stroke-width="1"/>
<text transform="translate(321.80,459.30) rotate(-45)" font-size="8.6" text-anchor="end" fill="#111">HD</text>
<line x1="330.80" y1="449.30" x2="330.80" y2="452.30" stroke="#2a2a2a" stroke-width="1"/>
<text transform="translate(334.70,459.30) rotate(-45)" font-size="8.6" text-anchor="end" fill="#111">CLL</text>
<line x1="274.50" y1="471.60" x2="300.60" y2="471.60" stroke="#333" stroke-width="1.2"/>
<text x="287.55" y="482.00" font-size="8.2" text-anchor="middle" font-weight="normal" fill="#111" >UNSTIM</text>
<line x1="310.80" y1="471.60" x2="338.60" y2="471.60" stroke="#333" stroke-width="1.2"/>
<text x="324.70" y="482.00" font-size="8.2" text-anchor="middle" font-weight="normal" fill="#111" >&#945;CD3/28</text>
<path d="M316.40 359.50 L316.40 355.20 L332.30 355.20 L332.30 359.50" fill="none" stroke="#222" stroke-width="1.15"/>
<text x="324.35" y="355.30" font-size="7" text-anchor="middle" font-weight="normal" fill="#111" >*</text>
<text transform="translate(244.80,398.20) rotate(-90)" font-size="8.3" font-weight="normal" style="stroke-width:0.35px" text-anchor="middle" fill="#111" textLength="40.7" lengthAdjust="spacingAndGlyphs">gMFI A<tspan baseline-shift="-1.8" font-size="5.8">2A/B</tspan>R<tspan baseline-shift="3.2" font-size="5.8">+</tspan></text>
<rect x="411.90" y="437.31" width="11.40" height="11.19" fill="#dadde2"/>
<rect x="426.50" y="407.14" width="10.80" height="41.36" fill="#f7cbd3"/>
<rect x="439.80" y="437.31" width="11.70" height="11.19" fill="#d2dcec"/>
<rect x="466.30" y="434.88" width="11.00" height="13.62" fill="#8f98a6"/>
<rect x="480.00" y="383.05" width="11.70" height="65.45" fill="#e8647d"/>
<rect x="494.40" y="419.55" width="11.00" height="28.95" fill="#7792bf"/>
<line x1="417.60" y1="430.25" x2="417.60" y2="444.12" stroke="#8a8f99" stroke-width="0.8"/>
<line x1="414.80" y1="430.25" x2="420.40" y2="430.25" stroke="#8a8f99" stroke-width="0.9"/>
<line x1="414.80" y1="444.12" x2="420.40" y2="444.12" stroke="#8a8f99" stroke-width="0.9"/>
<circle cx="417.60" cy="423.93" r="1.70" fill="#fff" stroke="#8a8f99" stroke-width="0.75"/>
<circle cx="414.10" cy="444.12" r="1.70" fill="#dadde2" stroke="#8a8f99" stroke-width="0.75"/>
<circle cx="421.10" cy="442.90" r="1.70" fill="#dadde2" stroke="#8a8f99" stroke-width="0.75"/>
<line x1="431.90" y1="396.19" x2="431.90" y2="417.11" stroke="#d2566e" stroke-width="0.8"/>
<line x1="429.10" y1="396.19" x2="434.70" y2="396.19" stroke="#d2566e" stroke-width="0.9"/>
<line x1="429.10" y1="417.11" x2="434.70" y2="417.11" stroke="#d2566e" stroke-width="0.9"/>
<circle cx="431.90" cy="362.62" r="1.70" fill="#fff" stroke="#d2566e" stroke-width="0.75"/>
<circle cx="431.90" cy="392.30" r="1.70" fill="#fff" stroke="#d2566e" stroke-width="0.75"/>
<circle cx="427.90" cy="412.73" r="1.70" fill="#f7cbd3" stroke="#d2566e" stroke-width="0.75"/>
<circle cx="435.90" cy="412.73" r="1.70" fill="#f7cbd3" stroke="#d2566e" stroke-width="0.75"/>
<circle cx="431.90" cy="412.73" r="1.70" fill="#f7cbd3" stroke="#d2566e" stroke-width="0.75"/>
<circle cx="431.90" cy="423.44" r="1.70" fill="#f7cbd3" stroke="#d2566e" stroke-width="0.75"/>
<circle cx="431.90" cy="432.44" r="1.70" fill="#f7cbd3" stroke="#d2566e" stroke-width="0.75"/>
<line x1="445.65" y1="430.74" x2="445.65" y2="444.12" stroke="#5f7fae" stroke-width="0.8"/>
<line x1="442.85" y1="430.74" x2="448.45" y2="430.74" stroke="#5f7fae" stroke-width="0.9"/>
<line x1="442.85" y1="444.12" x2="448.45" y2="444.12" stroke="#5f7fae" stroke-width="0.9"/>
<circle cx="445.65" cy="418.09" r="1.70" fill="#fff" stroke="#5f7fae" stroke-width="0.75"/>
<circle cx="445.65" cy="430.74" r="1.70" fill="#fff" stroke="#5f7fae" stroke-width="0.75"/>
<circle cx="445.65" cy="438.04" r="1.70" fill="#d2dcec" stroke="#5f7fae" stroke-width="0.75"/>
<circle cx="442.15" cy="443.39" r="1.70" fill="#d2dcec" stroke="#5f7fae" stroke-width="0.75"/>
<circle cx="449.15" cy="443.39" r="1.70" fill="#d2dcec" stroke="#5f7fae" stroke-width="0.75"/>
<circle cx="442.15" cy="446.55" r="1.70" fill="#d2dcec" stroke="#5f7fae" stroke-width="0.75"/>
<line x1="471.80" y1="425.39" x2="471.80" y2="442.90" stroke="#243247" stroke-width="0.8"/>
<line x1="469.00" y1="425.39" x2="474.60" y2="425.39" stroke="#243247" stroke-width="0.9"/>
<line x1="469.00" y1="442.90" x2="474.60" y2="442.90" stroke="#243247" stroke-width="0.9"/>
<circle cx="471.80" cy="416.38" r="1.50" fill="#243247" stroke="none" stroke-width="0"/>
<circle cx="468.80" cy="443.39" r="1.50" fill="#243247" stroke="none" stroke-width="0"/>
<circle cx="475.30" cy="441.93" r="1.50" fill="#243247" stroke="none" stroke-width="0"/>
<line x1="485.85" y1="374.29" x2="485.85" y2="389.38" stroke="#b5123a" stroke-width="0.8"/>
<line x1="483.05" y1="374.29" x2="488.65" y2="374.29" stroke="#b5123a" stroke-width="0.9"/>
<line x1="483.05" y1="389.38" x2="488.65" y2="389.38" stroke="#b5123a" stroke-width="0.9"/>
<circle cx="485.85" cy="367.72" r="1.50" fill="#b5123a" stroke="none" stroke-width="0"/>
<circle cx="485.85" cy="376.73" r="1.50" fill="#b5123a" stroke="none" stroke-width="0"/>
<circle cx="485.85" cy="382.57" r="1.50" fill="#b5123a" stroke="none" stroke-width="0"/>
<circle cx="485.85" cy="401.54" r="1.50" fill="#b5123a" stroke="none" stroke-width="0"/>
<line x1="499.90" y1="412.25" x2="499.90" y2="426.12" stroke="#1d3f72" stroke-width="0.8"/>
<line x1="497.10" y1="412.25" x2="502.70" y2="412.25" stroke="#1d3f72" stroke-width="0.9"/>
<line x1="497.10" y1="426.12" x2="502.70" y2="426.12" stroke="#1d3f72" stroke-width="0.9"/>
<circle cx="495.90" cy="400.33" r="1.50" fill="#1d3f72" stroke="none" stroke-width="0"/>
<circle cx="504.40" cy="397.89" r="1.50" fill="#1d3f72" stroke="none" stroke-width="0"/>
<circle cx="499.90" cy="419.06" r="1.50" fill="#1d3f72" stroke="none" stroke-width="0"/>
<circle cx="499.90" cy="425.14" r="1.50" fill="#1d3f72" stroke="none" stroke-width="0"/>
<circle cx="499.90" cy="431.23" r="1.50" fill="#1d3f72" stroke="none" stroke-width="0"/>
<circle cx="499.90" cy="437.06" r="1.50" fill="#1d3f72" stroke="none" stroke-width="0"/>
<line x1="406.35" y1="348.50" x2="406.35" y2="449.20" stroke="#2a2a2a" stroke-width="1.4"/>
<line x1="405.65" y1="448.50" x2="513.30" y2="448.50" stroke="#2a2a2a" stroke-width="1.4"/>
<line x1="403.35" y1="448.50" x2="406.35" y2="448.50" stroke="#2a2a2a" stroke-width="1"/>
<text x="400.15" y="451.00" font-size="8.6" text-anchor="end" font-weight="normal" fill="#111" >0</text>
<line x1="403.35" y1="424.17" x2="406.35" y2="424.17" stroke="#2a2a2a" stroke-width="1"/>
<text x="400.15" y="426.67" font-size="8.6" text-anchor="end" font-weight="normal" fill="#111" >10</text>
<line x1="403.35" y1="399.84" x2="406.35" y2="399.84" stroke="#2a2a2a" stroke-width="1"/>
<text x="400.15" y="402.34" font-size="8.6" text-anchor="end" font-weight="normal" fill="#111" >20</text>
<line x1="403.35" y1="375.51" x2="406.35" y2="375.51" stroke="#2a2a2a" stroke-width="1"/>
<text x="400.15" y="378.01" font-size="8.6" text-anchor="end" font-weight="normal" fill="#111" >30</text>
<line x1="403.35" y1="351.18" x2="406.35" y2="351.18" stroke="#2a2a2a" stroke-width="1"/>
<text x="400.15" y="353.68" font-size="8.6" text-anchor="end" font-weight="normal" fill="#111" >40</text>
<line x1="417.60" y1="448.50" x2="417.60" y2="451.50" stroke="#2a2a2a" stroke-width="1"/>
<text transform="translate(421.50,458.50) rotate(-45)" font-size="8.6" text-anchor="end" fill="#111">HD</text>
<line x1="431.80" y1="448.50" x2="431.80" y2="451.50" stroke="#2a2a2a" stroke-width="1"/>
<text transform="translate(435.70,458.50) rotate(-45)" font-size="8.6" text-anchor="end" fill="#111">CLL</text>
<line x1="445.80" y1="448.50" x2="445.80" y2="451.50" stroke="#2a2a2a" stroke-width="1"/>
<text transform="translate(449.70,458.50) rotate(-45)" font-size="8.6" text-anchor="end" fill="#111">Iso</text>
<line x1="472.00" y1="448.50" x2="472.00" y2="451.50" stroke="#2a2a2a" stroke-width="1"/>
<text transform="translate(475.90,458.50) rotate(-45)" font-size="8.6" text-anchor="end" fill="#111">HD</text>
<line x1="486.00" y1="448.50" x2="486.00" y2="451.50" stroke="#2a2a2a" stroke-width="1"/>
<text transform="translate(489.90,458.50) rotate(-45)" font-size="8.6" text-anchor="end" fill="#111">CLL</text>
<line x1="500.10" y1="448.50" x2="500.10" y2="451.50" stroke="#2a2a2a" stroke-width="1"/>
<text transform="translate(504.00,458.50) rotate(-45)" font-size="8.6" text-anchor="end" fill="#111">Iso</text>
<line x1="408.80" y1="471.50" x2="454.90" y2="471.50" stroke="#333" stroke-width="1.2"/>
<text x="431.85" y="481.90" font-size="8.2" text-anchor="middle" font-weight="normal" fill="#111" >UNSTIM</text>
<line x1="463.50" y1="471.50" x2="509.60" y2="471.50" stroke="#333" stroke-width="1.2"/>
<text x="486.55" y="481.90" font-size="8.2" text-anchor="middle" font-weight="normal" fill="#111" >&#945;CD3/28</text>
<path d="M468.40 360.90 L468.40 355.60 L485.60 355.60 L485.60 360.90" fill="none" stroke="#222" stroke-width="1.15"/>
<text x="477.00" y="355.60" font-size="7" text-anchor="middle" font-weight="normal" fill="#111" >**</text>
<path d="M486.40 360.90 L486.40 355.60 L500.80 355.60 L500.80 360.90" fill="none" stroke="#222" stroke-width="1.15"/>
<text x="493.60" y="355.60" font-size="7" text-anchor="middle" font-weight="normal" fill="#111" >*</text>
<text transform="translate(384.60,398.90) rotate(-90)" font-size="10" font-weight="normal" style="stroke-width:0.35px" text-anchor="middle" fill="#111" textLength="25.5" lengthAdjust="spacingAndGlyphs">%CD39<tspan baseline-shift="3.2" font-size="5.8">+</tspan></text>
<rect x="44.10" y="601.07" width="10.80" height="23.53" fill="#f7cbd3"/>
<rect x="57.70" y="614.37" width="11.20" height="10.23" fill="#d2dcec"/>
<rect x="83.80" y="562.88" width="10.30" height="61.72" fill="#e8647d"/>
<rect x="96.90" y="609.25" width="10.60" height="15.35" fill="#7792bf"/>
<line x1="49.50" y1="599.71" x2="49.50" y2="603.46" stroke="#d2566e" stroke-width="0.8"/>
<line x1="46.70" y1="599.71" x2="52.30" y2="599.71" stroke="#d2566e" stroke-width="0.9"/>
<line x1="46.70" y1="603.46" x2="52.30" y2="603.46" stroke="#d2566e" stroke-width="0.9"/>
<circle cx="46.00" cy="600.05" r="1.70" fill="#fff" stroke="#d2566e" stroke-width="0.75"/>
<circle cx="54.00" cy="596.98" r="1.70" fill="#fff" stroke="#d2566e" stroke-width="0.75"/>
<circle cx="49.50" cy="602.09" r="1.70" fill="#f7cbd3" stroke="#d2566e" stroke-width="0.75"/>
<circle cx="46.00" cy="606.19" r="1.70" fill="#f7cbd3" stroke="#d2566e" stroke-width="0.75"/>
<circle cx="53.00" cy="603.12" r="1.70" fill="#f7cbd3" stroke="#d2566e" stroke-width="0.75"/>
<line x1="63.30" y1="611.30" x2="63.30" y2="617.78" stroke="#5f7fae" stroke-width="0.8"/>
<line x1="60.50" y1="611.30" x2="66.10" y2="611.30" stroke="#5f7fae" stroke-width="0.9"/>
<line x1="60.50" y1="617.78" x2="66.10" y2="617.78" stroke="#5f7fae" stroke-width="0.9"/>
<circle cx="59.80" cy="606.87" r="1.70" fill="#fff" stroke="#5f7fae" stroke-width="0.75"/>
<circle cx="66.80" cy="606.19" r="1.70" fill="#fff" stroke="#5f7fae" stroke-width="0.75"/>
<circle cx="63.30" cy="615.05" r="1.70" fill="#d2dcec" stroke="#5f7fae" stroke-width="0.75"/>
<circle cx="59.30" cy="617.78" r="1.70" fill="#d2dcec" stroke="#5f7fae" stroke-width="0.75"/>
<circle cx="67.30" cy="617.78" r="1.70" fill="#d2dcec" stroke="#5f7fae" stroke-width="0.75"/>
<circle cx="63.30" cy="619.49" r="1.70" fill="#d2dcec" stroke="#5f7fae" stroke-width="0.75"/>
<line x1="88.95" y1="547.88" x2="88.95" y2="571.06" stroke="#b5123a" stroke-width="0.8"/>
<line x1="86.15" y1="547.88" x2="91.75" y2="547.88" stroke="#b5123a" stroke-width="0.9"/>
<line x1="86.15" y1="571.06" x2="91.75" y2="571.06" stroke="#b5123a" stroke-width="0.9"/>
<circle cx="88.95" cy="523.66" r="1.75" fill="#b5123a" stroke="none" stroke-width="0"/>
<circle cx="88.95" cy="559.13" r="1.75" fill="#b5123a" stroke="none" stroke-width="0"/>
<circle cx="88.95" cy="579.93" r="1.75" fill="#b5123a" stroke="none" stroke-width="0"/>
<circle cx="88.95" cy="585.04" r="1.75" fill="#b5123a" stroke="none" stroke-width="0"/>
<line x1="102.20" y1="603.29" x2="102.20" y2="616.76" stroke="#1d3f72" stroke-width="0.8"/>
<line x1="99.40" y1="603.29" x2="105.00" y2="603.29" stroke="#1d3f72" stroke-width="0.9"/>
<line x1="99.40" y1="616.76" x2="105.00" y2="616.76" stroke="#1d3f72" stroke-width="0.9"/>
<circle cx="102.20" cy="584.02" r="1.75" fill="#1d3f72" stroke="none" stroke-width="0"/>
<circle cx="102.20" cy="603.29" r="1.75" fill="#1d3f72" stroke="none" stroke-width="0"/>
<circle cx="98.20" cy="611.98" r="1.75" fill="#1d3f72" stroke="none" stroke-width="0"/>
<circle cx="106.20" cy="611.98" r="1.75" fill="#1d3f72" stroke="none" stroke-width="0"/>
<circle cx="98.20" cy="621.36" r="1.75" fill="#1d3f72" stroke="none" stroke-width="0"/>
<circle cx="106.20" cy="618.80" r="1.75" fill="#1d3f72" stroke="none" stroke-width="0"/>
<line x1="40.60" y1="519.50" x2="40.60" y2="625.30" stroke="#2a2a2a" stroke-width="1.4"/>
<line x1="39.90" y1="624.60" x2="111.90" y2="624.60" stroke="#2a2a2a" stroke-width="1.4"/>
<line x1="37.60" y1="624.60" x2="40.60" y2="624.60" stroke="#2a2a2a" stroke-width="1"/>
<text x="34.40" y="627.10" font-size="8.6" text-anchor="end" font-weight="normal" fill="#111" >0</text>
<line x1="37.60" y1="590.50" x2="40.60" y2="590.50" stroke="#2a2a2a" stroke-width="1"/>
<text x="34.40" y="593.00" font-size="8.6" text-anchor="end" font-weight="normal" fill="#111" >10</text>
<line x1="37.60" y1="556.40" x2="40.60" y2="556.40" stroke="#2a2a2a" stroke-width="1"/>
<text x="34.40" y="558.90" font-size="8.6" text-anchor="end" font-weight="normal" fill="#111" >20</text>
<line x1="37.60" y1="522.30" x2="40.60" y2="522.30" stroke="#2a2a2a" stroke-width="1"/>
<text x="34.40" y="524.80" font-size="8.6" text-anchor="end" font-weight="normal" fill="#111" >30</text>
<line x1="49.20" y1="624.60" x2="49.20" y2="627.60" stroke="#2a2a2a" stroke-width="1"/>
<text transform="translate(53.70,634.20) rotate(-45)" font-size="8.2" text-anchor="end" fill="#111">Pre</text>
<line x1="63.10" y1="624.60" x2="63.10" y2="627.60" stroke="#2a2a2a" stroke-width="1"/>
<text transform="translate(67.60,634.20) rotate(-45)" font-size="8.2" text-anchor="end" fill="#111">Post</text>
<line x1="88.70" y1="624.60" x2="88.70" y2="627.60" stroke="#2a2a2a" stroke-width="1"/>
<text transform="translate(93.20,634.20) rotate(-45)" font-size="8.2" text-anchor="end" fill="#111">Pre</text>
<line x1="102.70" y1="624.60" x2="102.70" y2="627.60" stroke="#2a2a2a" stroke-width="1"/>
<text transform="translate(107.20,634.20) rotate(-45)" font-size="8.2" text-anchor="end" fill="#111">Post</text>
<line x1="43.80" y1="649.80" x2="70.40" y2="649.80" stroke="#333" stroke-width="1.2"/>
<text x="57.10" y="660.20" font-size="8.2" text-anchor="middle" font-weight="normal" fill="#111" >UNSTIM</text>
<line x1="82.30" y1="649.80" x2="109.20" y2="649.80" stroke="#333" stroke-width="1.2"/>
<text x="95.75" y="660.20" font-size="8.2" text-anchor="middle" font-weight="normal" fill="#111" >&#945;CD3/28</text>
<path d="M48.40 592.70 L48.40 588.00 L63.90 588.00 L63.90 592.70" fill="none" stroke="#222" stroke-width="1.15"/>
<text x="56.15" y="588.40" font-size="7" text-anchor="middle" font-weight="normal" fill="#111" >*</text>
<path d="M84.40 519.90 L84.40 514.30 L100.60 514.30 L100.60 519.90" fill="none" stroke="#222" stroke-width="1.15"/>
<text x="92.50" y="514.60" font-size="7" text-anchor="middle" font-weight="normal" fill="#111" >*</text>
<text transform="translate(18.80,571.60) rotate(-90)" font-size="10" font-weight="normal" style="stroke-width:0.35px" text-anchor="middle" fill="#111" textLength="26.2" lengthAdjust="spacingAndGlyphs">%CD39<tspan baseline-shift="3.2" font-size="5.8">+</tspan></text>
<rect x="161.90" y="586.90" width="10.20" height="37.70" fill="#f7cbd3"/>
<rect x="175.10" y="597.48" width="10.10" height="27.12" fill="#d2dcec"/>
<rect x="200.00" y="555.41" width="10.00" height="69.19" fill="#e8647d"/>
<rect x="213.10" y="561.56" width="10.40" height="63.04" fill="#7792bf"/>
<line x1="167.00" y1="583.35" x2="167.00" y2="590.45" stroke="#d2566e" stroke-width="0.8"/>
<line x1="164.20" y1="583.35" x2="169.80" y2="583.35" stroke="#d2566e" stroke-width="0.9"/>
<line x1="164.20" y1="590.45" x2="169.80" y2="590.45" stroke="#d2566e" stroke-width="0.9"/>
<circle cx="167.00" cy="578.77" r="1.70" fill="#fff" stroke="#d2566e" stroke-width="0.75"/>
<circle cx="162.50" cy="586.42" r="1.70" fill="#fff" stroke="#d2566e" stroke-width="0.75"/>
<circle cx="167.00" cy="587.44" r="1.70" fill="#f7cbd3" stroke="#d2566e" stroke-width="0.75"/>
<circle cx="171.50" cy="587.44" r="1.70" fill="#f7cbd3" stroke="#d2566e" stroke-width="0.75"/>
<circle cx="167.00" cy="591.27" r="1.70" fill="#f7cbd3" stroke="#d2566e" stroke-width="0.75"/>
<line x1="180.15" y1="593.87" x2="180.15" y2="601.04" stroke="#5f7fae" stroke-width="0.8"/>
<line x1="177.35" y1="593.87" x2="182.95" y2="593.87" stroke="#5f7fae" stroke-width="0.9"/>
<line x1="177.35" y1="601.04" x2="182.95" y2="601.04" stroke="#5f7fae" stroke-width="0.9"/>
<circle cx="180.15" cy="587.72" r="1.70" fill="#fff" stroke="#5f7fae" stroke-width="0.75"/>
<circle cx="178.15" cy="593.87" r="1.70" fill="#fff" stroke="#5f7fae" stroke-width="0.75"/>
<circle cx="182.15" cy="595.57" r="1.70" fill="#fff" stroke="#5f7fae" stroke-width="0.75"/>
<circle cx="176.15" cy="601.04" r="1.70" fill="#d2dcec" stroke="#5f7fae" stroke-width="0.75"/>
<circle cx="180.15" cy="599.94" r="1.70" fill="#d2dcec" stroke="#5f7fae" stroke-width="0.75"/>
<circle cx="184.65" cy="600.70" r="1.70" fill="#d2dcec" stroke="#5f7fae" stroke-width="0.75"/>
<line x1="205.00" y1="546.94" x2="205.00" y2="562.86" stroke="#b5123a" stroke-width="0.8"/>
<line x1="202.20" y1="546.94" x2="207.80" y2="546.94" stroke="#b5123a" stroke-width="0.9"/>
<line x1="202.20" y1="562.86" x2="207.80" y2="562.86" stroke="#b5123a" stroke-width="0.9"/>
<circle cx="201.50" cy="546.53" r="1.50" fill="#b5123a" stroke="none" stroke-width="0"/>
<circle cx="209.00" cy="544.96" r="1.50" fill="#b5123a" stroke="none" stroke-width="0"/>
<circle cx="205.00" cy="551.04" r="1.50" fill="#b5123a" stroke="none" stroke-width="0"/>
<circle cx="205.00" cy="579.25" r="1.50" fill="#b5123a" stroke="none" stroke-width="0"/>
<line x1="218.30" y1="553.36" x2="218.30" y2="569.96" stroke="#1d3f72" stroke-width="0.8"/>
<line x1="215.50" y1="553.36" x2="221.10" y2="553.36" stroke="#1d3f72" stroke-width="0.9"/>
<line x1="215.50" y1="569.96" x2="221.10" y2="569.96" stroke="#1d3f72" stroke-width="0.9"/>
<circle cx="218.30" cy="533.01" r="1.50" fill="#1d3f72" stroke="none" stroke-width="0"/>
<circle cx="218.30" cy="549.81" r="1.50" fill="#1d3f72" stroke="none" stroke-width="0"/>
<circle cx="214.30" cy="564.02" r="1.50" fill="#1d3f72" stroke="none" stroke-width="0"/>
<circle cx="218.30" cy="566.55" r="1.50" fill="#1d3f72" stroke="none" stroke-width="0"/>
<circle cx="222.30" cy="565.11" r="1.50" fill="#1d3f72" stroke="none" stroke-width="0"/>
<circle cx="218.30" cy="583.62" r="1.50" fill="#1d3f72" stroke="none" stroke-width="0"/>
<line x1="158.00" y1="519.50" x2="158.00" y2="625.30" stroke="#2a2a2a" stroke-width="1.4"/>
<line x1="157.30" y1="624.60" x2="228.40" y2="624.60" stroke="#2a2a2a" stroke-width="1.4"/>
<line x1="155.00" y1="624.60" x2="158.00" y2="624.60" stroke="#2a2a2a" stroke-width="1"/>
<text x="151.80" y="627.10" font-size="8.6" text-anchor="end" font-weight="normal" fill="#111" >0</text>
<line x1="155.00" y1="590.45" x2="158.00" y2="590.45" stroke="#2a2a2a" stroke-width="1"/>
<text x="151.80" y="592.95" font-size="8.6" text-anchor="end" font-weight="normal" fill="#111" >500</text>
<line x1="155.00" y1="556.30" x2="158.00" y2="556.30" stroke="#2a2a2a" stroke-width="1"/>
<text x="151.80" y="558.80" font-size="8.6" text-anchor="end" font-weight="normal" fill="#111" >1000</text>
<line x1="155.00" y1="522.15" x2="158.00" y2="522.15" stroke="#2a2a2a" stroke-width="1"/>
<text x="151.80" y="524.65" font-size="8.6" text-anchor="end" font-weight="normal" fill="#111" >1500</text>
<line x1="167.00" y1="624.60" x2="167.00" y2="627.60" stroke="#2a2a2a" stroke-width="1"/>
<text transform="translate(171.50,634.20) rotate(-45)" font-size="8.2" text-anchor="end" fill="#111">Pre</text>
<line x1="179.60" y1="624.60" x2="179.60" y2="627.60" stroke="#2a2a2a" stroke-width="1"/>
<text transform="translate(184.10,634.20) rotate(-45)" font-size="8.2" text-anchor="end" fill="#111">Post</text>
<line x1="205.00" y1="624.60" x2="205.00" y2="627.60" stroke="#2a2a2a" stroke-width="1"/>
<text transform="translate(209.50,634.20) rotate(-45)" font-size="8.2" text-anchor="end" fill="#111">Pre</text>
<line x1="217.80" y1="624.60" x2="217.80" y2="627.60" stroke="#2a2a2a" stroke-width="1"/>
<text transform="translate(222.30,634.20) rotate(-45)" font-size="8.2" text-anchor="end" fill="#111">Post</text>
<line x1="161.20" y1="649.20" x2="187.60" y2="649.20" stroke="#333" stroke-width="1.2"/>
<text x="174.40" y="659.60" font-size="8.2" text-anchor="middle" font-weight="normal" fill="#111" >UNSTIM</text>
<line x1="199.90" y1="649.20" x2="226.50" y2="649.20" stroke="#333" stroke-width="1.2"/>
<text x="213.20" y="659.60" font-size="8.2" text-anchor="middle" font-weight="normal" fill="#111" >&#945;CD3/28</text>
<text transform="translate(124.40,571.80) rotate(-90)" font-size="8.3" font-weight="normal" style="stroke-width:0.35px" text-anchor="middle" fill="#111" textLength="41.9" lengthAdjust="spacingAndGlyphs">gMFI A<tspan baseline-shift="-1.8" font-size="5.8">2A/B</tspan>R<tspan baseline-shift="3.2" font-size="5.8">+</tspan></text>
<rect x="277.30" y="595.17" width="10.70" height="29.33" fill="#f7cbd3"/>
<rect x="290.70" y="596.27" width="10.90" height="28.23" fill="#d2dcec"/>
<rect x="316.30" y="584.60" width="9.90" height="39.90" fill="#e8647d"/>
<rect x="329.50" y="565.03" width="9.80" height="59.47" fill="#7792bf"/>
<line x1="282.65" y1="592.72" x2="282.65" y2="598.52" stroke="#d2566e" stroke-width="0.8"/>
<line x1="279.85" y1="592.72" x2="285.45" y2="592.72" stroke="#d2566e" stroke-width="0.9"/>
<line x1="279.85" y1="598.52" x2="285.45" y2="598.52" stroke="#d2566e" stroke-width="0.9"/>
<circle cx="282.65" cy="589.17" r="1.70" fill="#fff" stroke="#d2566e" stroke-width="0.75"/>
<circle cx="278.15" cy="595.72" r="1.70" fill="#f7cbd3" stroke="#d2566e" stroke-width="0.75"/>
<circle cx="287.15" cy="595.72" r="1.70" fill="#f7cbd3" stroke="#d2566e" stroke-width="0.75"/>
<circle cx="282.65" cy="604.11" r="1.70" fill="#f7cbd3" stroke="#d2566e" stroke-width="0.75"/>
<line x1="296.15" y1="592.99" x2="296.15" y2="599.27" stroke="#5f7fae" stroke-width="0.8"/>
<line x1="293.35" y1="592.99" x2="298.95" y2="592.99" stroke="#5f7fae" stroke-width="0.9"/>
<line x1="293.35" y1="599.27" x2="298.95" y2="599.27" stroke="#5f7fae" stroke-width="0.9"/>
<circle cx="296.15" cy="585.90" r="1.70" fill="#fff" stroke="#5f7fae" stroke-width="0.75"/>
<circle cx="296.15" cy="588.15" r="1.70" fill="#fff" stroke="#5f7fae" stroke-width="0.75"/>
<circle cx="292.15" cy="598.99" r="1.70" fill="#d2dcec" stroke="#5f7fae" stroke-width="0.75"/>
<circle cx="300.65" cy="598.99" r="1.70" fill="#d2dcec" stroke="#5f7fae" stroke-width="0.75"/>
<circle cx="296.15" cy="605.40" r="1.70" fill="#d2dcec" stroke="#5f7fae" stroke-width="0.75"/>
<circle cx="296.15" cy="595.17" r="1.70" fill="#fff" stroke="#5f7fae" stroke-width="0.75"/>
<line x1="321.25" y1="574.85" x2="321.25" y2="594.36" stroke="#b5123a" stroke-width="0.8"/>
<line x1="318.45" y1="574.85" x2="324.05" y2="574.85" stroke="#b5123a" stroke-width="0.9"/>
<line x1="318.45" y1="594.36" x2="324.05" y2="594.36" stroke="#b5123a" stroke-width="0.9"/>
<circle cx="321.25" cy="567.96" r="1.50" fill="#b5123a" stroke="none" stroke-width="0"/>
<circle cx="321.25" cy="569.60" r="1.50" fill="#b5123a" stroke="none" stroke-width="0"/>
<circle cx="321.25" cy="570.76" r="1.50" fill="#b5123a" stroke="none" stroke-width="0"/>
<circle cx="321.25" cy="595.72" r="1.50" fill="#b5123a" stroke="none" stroke-width="0"/>
<circle cx="321.25" cy="602.13" r="1.50" fill="#b5123a" stroke="none" stroke-width="0"/>
<line x1="334.40" y1="558.48" x2="334.40" y2="571.58" stroke="#1d3f72" stroke-width="0.8"/>
<line x1="331.60" y1="558.48" x2="337.20" y2="558.48" stroke="#1d3f72" stroke-width="0.9"/>
<line x1="331.60" y1="571.58" x2="337.20" y2="571.58" stroke="#1d3f72" stroke-width="0.9"/>
<circle cx="329.90" cy="547.91" r="1.50" fill="#1d3f72" stroke="none" stroke-width="0"/>
<circle cx="338.90" cy="546.21" r="1.50" fill="#1d3f72" stroke="none" stroke-width="0"/>
<circle cx="334.40" cy="559.37" r="1.50" fill="#1d3f72" stroke="none" stroke-width="0"/>
<circle cx="329.90" cy="575.19" r="1.50" fill="#1d3f72" stroke="none" stroke-width="0"/>
<circle cx="338.90" cy="576.76" r="1.50" fill="#1d3f72" stroke="none" stroke-width="0"/>
<circle cx="334.40" cy="580.03" r="1.50" fill="#1d3f72" stroke="none" stroke-width="0"/>
<line x1="273.95" y1="519.50" x2="273.95" y2="625.20" stroke="#2a2a2a" stroke-width="1.4"/>
<line x1="273.25" y1="624.50" x2="344.90" y2="624.50" stroke="#2a2a2a" stroke-width="1.4"/>
<line x1="270.95" y1="624.50" x2="273.95" y2="624.50" stroke="#2a2a2a" stroke-width="1"/>
<text x="267.75" y="627.00" font-size="8.6" text-anchor="end" font-weight="normal" fill="#111" >0</text>
<line x1="270.95" y1="590.40" x2="273.95" y2="590.40" stroke="#2a2a2a" stroke-width="1"/>
<text x="267.75" y="592.90" font-size="8.6" text-anchor="end" font-weight="normal" fill="#111" >500</text>
<line x1="270.95" y1="556.30" x2="273.95" y2="556.30" stroke="#2a2a2a" stroke-width="1"/>
<text x="267.75" y="558.80" font-size="8.6" text-anchor="end" font-weight="normal" fill="#111" >1000</text>
<line x1="270.95" y1="522.20" x2="273.95" y2="522.20" stroke="#2a2a2a" stroke-width="1"/>
<text x="267.75" y="524.70" font-size="8.6" text-anchor="end" font-weight="normal" fill="#111" >1500</text>
<line x1="282.60" y1="624.50" x2="282.60" y2="627.50" stroke="#2a2a2a" stroke-width="1"/>
<text transform="translate(287.10,634.10) rotate(-45)" font-size="8.2" text-anchor="end" fill="#111">Pre</text>
<line x1="296.10" y1="624.50" x2="296.10" y2="627.50" stroke="#2a2a2a" stroke-width="1"/>
<text transform="translate(300.60,634.10) rotate(-45)" font-size="8.2" text-anchor="end" fill="#111">Post</text>
<line x1="321.00" y1="624.50" x2="321.00" y2="627.50" stroke="#2a2a2a" stroke-width="1"/>
<text transform="translate(325.50,634.10) rotate(-45)" font-size="8.2" text-anchor="end" fill="#111">Pre</text>
<line x1="334.10" y1="624.50" x2="334.10" y2="627.50" stroke="#2a2a2a" stroke-width="1"/>
<text transform="translate(338.60,634.10) rotate(-45)" font-size="8.2" text-anchor="end" fill="#111">Post</text>
<line x1="276.10" y1="649.90" x2="302.90" y2="649.90" stroke="#333" stroke-width="1.2"/>
<text x="289.50" y="660.30" font-size="8.2" text-anchor="middle" font-weight="normal" fill="#111" >UNSTIM</text>
<line x1="316.00" y1="649.90" x2="342.60" y2="649.90" stroke="#333" stroke-width="1.2"/>
<text x="329.30" y="660.30" font-size="8.2" text-anchor="middle" font-weight="normal" fill="#111" >&#945;CD3/28</text>
<path d="M320.80 540.50 L320.80 535.60 L336.40 535.60 L336.40 540.50" fill="none" stroke="#222" stroke-width="1.15"/>
<text x="328.60" y="535.80" font-size="7" text-anchor="middle" font-weight="normal" fill="#111" >*</text>
<text transform="translate(242.60,571.60) rotate(-90)" font-size="8.3" font-weight="normal" style="stroke-width:0.35px" text-anchor="middle" fill="#111" textLength="40.4" lengthAdjust="spacingAndGlyphs">gMFI HIF-1&#945;</text>
<rect x="407.90" y="610.77" width="11.70" height="14.53" fill="#dadde2"/>
<rect x="422.90" y="610.18" width="11.50" height="15.12" fill="#f7cbd3"/>
<rect x="437.90" y="612.40" width="12.00" height="12.90" fill="#d2dcec"/>
<rect x="466.00" y="566.63" width="11.50" height="58.67" fill="#8f98a6"/>
<rect x="481.50" y="593.42" width="11.10" height="31.88" fill="#e8647d"/>
<rect x="496.50" y="576.70" width="10.90" height="48.60" fill="#7792bf"/>
<line x1="413.75" y1="608.98" x2="413.75" y2="611.37" stroke="#8a8f99" stroke-width="0.8"/>
<line x1="410.95" y1="608.98" x2="416.55" y2="608.98" stroke="#8a8f99" stroke-width="0.9"/>
<line x1="410.95" y1="611.37" x2="416.55" y2="611.37" stroke="#8a8f99" stroke-width="0.9"/>
<circle cx="409.75" cy="609.46" r="1.70" fill="#fff" stroke="#8a8f99" stroke-width="0.75"/>
<circle cx="413.75" cy="607.95" r="1.70" fill="#fff" stroke="#8a8f99" stroke-width="0.75"/>
<circle cx="417.75" cy="608.58" r="1.70" fill="#fff" stroke="#8a8f99" stroke-width="0.75"/>
<line x1="428.65" y1="604.56" x2="428.65" y2="613.36" stroke="#d2566e" stroke-width="0.8"/>
<line x1="425.85" y1="604.56" x2="431.45" y2="604.56" stroke="#d2566e" stroke-width="0.9"/>
<line x1="425.85" y1="613.36" x2="431.45" y2="613.36" stroke="#d2566e" stroke-width="0.9"/>
<circle cx="428.65" cy="595.65" r="1.70" fill="#fff" stroke="#d2566e" stroke-width="0.75"/>
<circle cx="428.65" cy="605.24" r="1.70" fill="#fff" stroke="#d2566e" stroke-width="0.75"/>
<circle cx="424.15" cy="611.29" r="1.70" fill="#f7cbd3" stroke="#d2566e" stroke-width="0.75"/>
<circle cx="427.15" cy="611.69" r="1.70" fill="#f7cbd3" stroke="#d2566e" stroke-width="0.75"/>
<circle cx="430.65" cy="611.57" r="1.70" fill="#f7cbd3" stroke="#d2566e" stroke-width="0.75"/>
<circle cx="433.65" cy="611.69" r="1.70" fill="#f7cbd3" stroke="#d2566e" stroke-width="0.75"/>
<circle cx="424.15" cy="614.63" r="1.70" fill="#f7cbd3" stroke="#d2566e" stroke-width="0.75"/>
<line x1="443.90" y1="608.58" x2="443.90" y2="616.15" stroke="#5f7fae" stroke-width="0.8"/>
<line x1="441.10" y1="608.58" x2="446.70" y2="608.58" stroke="#5f7fae" stroke-width="0.9"/>
<line x1="441.10" y1="616.15" x2="446.70" y2="616.15" stroke="#5f7fae" stroke-width="0.9"/>
<circle cx="443.90" cy="594.06" r="1.70" fill="#fff" stroke="#5f7fae" stroke-width="0.75"/>
<circle cx="441.90" cy="609.06" r="1.70" fill="#fff" stroke="#5f7fae" stroke-width="0.75"/>
<circle cx="445.90" cy="609.06" r="1.70" fill="#fff" stroke="#5f7fae" stroke-width="0.75"/>
<circle cx="438.90" cy="616.15" r="1.70" fill="#d2dcec" stroke="#5f7fae" stroke-width="0.75"/>
<circle cx="442.40" cy="615.23" r="1.70" fill="#d2dcec" stroke="#5f7fae" stroke-width="0.75"/>
<circle cx="445.90" cy="614.63" r="1.70" fill="#d2dcec" stroke="#5f7fae" stroke-width="0.75"/>
<circle cx="449.40" cy="616.15" r="1.70" fill="#d2dcec" stroke="#5f7fae" stroke-width="0.75"/>
<line x1="471.75" y1="550.60" x2="471.75" y2="582.71" stroke="#243247" stroke-width="0.8"/>
<line x1="468.95" y1="550.60" x2="474.55" y2="550.60" stroke="#243247" stroke-width="0.9"/>
<line x1="468.95" y1="582.71" x2="474.55" y2="582.71" stroke="#243247" stroke-width="0.9"/>
<circle cx="471.75" cy="535.47" r="1.50" fill="#243247" stroke="none" stroke-width="0"/>
<circle cx="471.75" cy="578.22" r="1.50" fill="#243247" stroke="none" stroke-width="0"/>
<circle cx="471.75" cy="584.07" r="1.50" fill="#243247" stroke="none" stroke-width="0"/>
<line x1="487.05" y1="587.21" x2="487.05" y2="599.43" stroke="#b5123a" stroke-width="0.8"/>
<line x1="484.25" y1="587.21" x2="489.85" y2="587.21" stroke="#b5123a" stroke-width="0.9"/>
<line x1="484.25" y1="599.43" x2="489.85" y2="599.43" stroke="#b5123a" stroke-width="0.9"/>
<circle cx="487.05" cy="578.93" r="1.50" fill="#b5123a" stroke="none" stroke-width="0"/>
<circle cx="487.05" cy="591.63" r="1.50" fill="#b5123a" stroke="none" stroke-width="0"/>
<circle cx="484.05" cy="596.76" r="1.50" fill="#b5123a" stroke="none" stroke-width="0"/>
<circle cx="490.05" cy="596.76" r="1.50" fill="#b5123a" stroke="none" stroke-width="0"/>
<circle cx="487.05" cy="602.81" r="1.50" fill="#b5123a" stroke="none" stroke-width="0"/>
<line x1="501.95" y1="570.06" x2="501.95" y2="583.31" stroke="#1d3f72" stroke-width="0.8"/>
<line x1="499.15" y1="570.06" x2="504.75" y2="570.06" stroke="#1d3f72" stroke-width="0.9"/>
<line x1="499.15" y1="583.31" x2="504.75" y2="583.31" stroke="#1d3f72" stroke-width="0.9"/>
<circle cx="501.95" cy="553.30" r="1.50" fill="#1d3f72" stroke="none" stroke-width="0"/>
<circle cx="501.95" cy="558.87" r="1.50" fill="#1d3f72" stroke="none" stroke-width="0"/>
<circle cx="497.95" cy="579.65" r="1.50" fill="#1d3f72" stroke="none" stroke-width="0"/>
<circle cx="505.95" cy="580.05" r="1.50" fill="#1d3f72" stroke="none" stroke-width="0"/>
<circle cx="501.95" cy="578.22" r="1.50" fill="#1d3f72" stroke="none" stroke-width="0"/>
<circle cx="501.95" cy="587.21" r="1.50" fill="#1d3f72" stroke="none" stroke-width="0"/>
<circle cx="501.95" cy="592.94" r="1.50" fill="#1d3f72" stroke="none" stroke-width="0"/>
<line x1="403.95" y1="523.10" x2="403.95" y2="626.00" stroke="#2a2a2a" stroke-width="1.4"/>
<line x1="403.25" y1="625.30" x2="511.50" y2="625.30" stroke="#2a2a2a" stroke-width="1.4"/>
<line x1="400.95" y1="625.30" x2="403.95" y2="625.30" stroke="#2a2a2a" stroke-width="1"/>
<text x="397.75" y="627.80" font-size="8.6" text-anchor="end" font-weight="normal" fill="#111" >0</text>
<line x1="400.95" y1="605.40" x2="403.95" y2="605.40" stroke="#2a2a2a" stroke-width="1"/>
<text x="397.75" y="607.90" font-size="8.6" text-anchor="end" font-weight="normal" fill="#111" >500</text>
<line x1="400.95" y1="585.50" x2="403.95" y2="585.50" stroke="#2a2a2a" stroke-width="1"/>
<text x="397.75" y="588.00" font-size="8.6" text-anchor="end" font-weight="normal" fill="#111" >1000</text>
<line x1="400.95" y1="565.60" x2="403.95" y2="565.60" stroke="#2a2a2a" stroke-width="1"/>
<text x="397.75" y="568.10" font-size="8.6" text-anchor="end" font-weight="normal" fill="#111" >1500</text>
<line x1="400.95" y1="545.70" x2="403.95" y2="545.70" stroke="#2a2a2a" stroke-width="1"/>
<text x="397.75" y="548.20" font-size="8.6" text-anchor="end" font-weight="normal" fill="#111" >2000</text>
<line x1="400.95" y1="525.80" x2="403.95" y2="525.80" stroke="#2a2a2a" stroke-width="1"/>
<text x="397.75" y="528.30" font-size="8.6" text-anchor="end" font-weight="normal" fill="#111" >2500</text>
<line x1="413.60" y1="625.30" x2="413.60" y2="628.30" stroke="#2a2a2a" stroke-width="1"/>
<text transform="translate(417.50,635.30) rotate(-45)" font-size="8.6" text-anchor="end" fill="#111">HD</text>
<line x1="428.90" y1="625.30" x2="428.90" y2="628.30" stroke="#2a2a2a" stroke-width="1"/>
<text transform="translate(432.80,635.30) rotate(-45)" font-size="8.6" text-anchor="end" fill="#111">CLL</text>
<line x1="443.90" y1="625.30" x2="443.90" y2="628.30" stroke="#2a2a2a" stroke-width="1"/>
<text transform="translate(447.80,635.30) rotate(-45)" font-size="8.6" text-anchor="end" fill="#111">Iso</text>
<line x1="471.60" y1="625.30" x2="471.60" y2="628.30" stroke="#2a2a2a" stroke-width="1"/>
<text transform="translate(475.50,635.30) rotate(-45)" font-size="8.6" text-anchor="end" fill="#111">HD</text>
<line x1="487.00" y1="625.30" x2="487.00" y2="628.30" stroke="#2a2a2a" stroke-width="1"/>
<text transform="translate(490.90,635.30) rotate(-45)" font-size="8.6" text-anchor="end" fill="#111">CLL</text>
<line x1="502.10" y1="625.30" x2="502.10" y2="628.30" stroke="#2a2a2a" stroke-width="1"/>
<text transform="translate(506.00,635.30) rotate(-45)" font-size="8.6" text-anchor="end" fill="#111">Iso</text>
<line x1="406.50" y1="648.40" x2="453.10" y2="648.40" stroke="#333" stroke-width="1.2"/>
<text x="429.80" y="658.80" font-size="8.2" text-anchor="middle" font-weight="normal" fill="#111" >UNSTIM</text>
<line x1="462.80" y1="648.40" x2="509.60" y2="648.40" stroke="#333" stroke-width="1.2"/>
<text x="486.20" y="658.80" font-size="8.2" text-anchor="middle" font-weight="normal" fill="#111" >&#945;CD3/28</text>
<text transform="translate(372.50,574.00) rotate(-90)" font-size="8.3" font-weight="normal" style="stroke-width:0.35px" text-anchor="middle" fill="#111" textLength="39.7" lengthAdjust="spacingAndGlyphs">gMFI HIF-1&#945;</text>
<rect x="0.5" y="0.5" width="519" height="669" fill="none" stroke="#555" stroke-width="1"/>
</svg></body></html>
